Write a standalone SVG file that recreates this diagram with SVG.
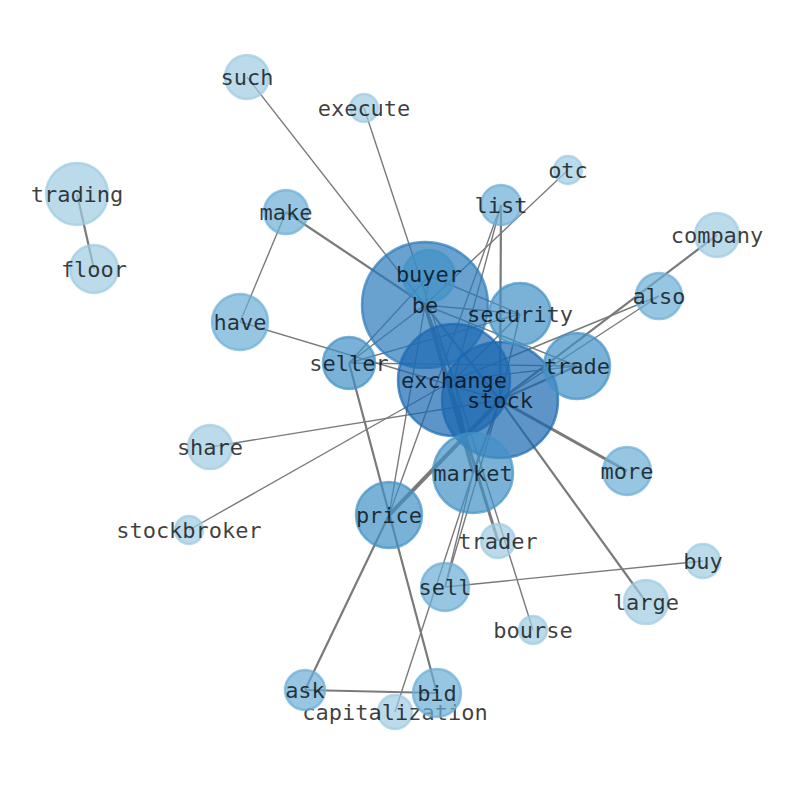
<svg xmlns="http://www.w3.org/2000/svg" width="794" height="790" viewBox="0 0 794 790">
<style>
.e{stroke:#7a7a7a;stroke-width:1.4;fill:none}
.w2{stroke-width:2.2}
.w3{stroke-width:3}
.w4{stroke-width:4}
circle{stroke-width:2.5;fill-opacity:0.7;stroke-opacity:0.7}
.c1{fill:#9ecae1;stroke:#9ecae1}
.c2{fill:#6baed6;stroke:#6baed6}
.c3{fill:#4292c6;stroke:#4292c6}
.c4{fill:#2b7bba;stroke:#2b7bba}
.c5{fill:#1a68b0;stroke:#1a68b0}
text{font-family:"DejaVu Sans Mono",monospace;font-size:22px;fill:#000;fill-opacity:0.75;text-anchor:middle;dominant-baseline:central}
</style>
<rect width="794" height="790" fill="#fff"/>
<g id="edges">
<line class="e w2" x1="77" y1="194" x2="94" y2="269"/>
<line class="e" x1="247" y1="77" x2="425" y2="305"/>
<line class="e" x1="364" y1="108" x2="454" y2="380"/>
<line class="e w2" x1="286" y1="212" x2="425" y2="305"/>
<line class="e" x1="286" y1="212" x2="240" y2="322"/>
<line class="e" x1="240" y1="322" x2="500" y2="400"/>
<line class="e" x1="568" y1="170" x2="425" y2="305"/>
<line class="e w2" x1="501" y1="205" x2="500" y2="400"/>
<line class="e" x1="501" y1="205" x2="454" y2="380"/>
<line class="e" x1="501" y1="205" x2="389" y2="515"/>
<line class="e w2" x1="717" y1="235" x2="500" y2="400"/>
<line class="e" x1="659" y1="296" x2="454" y2="380"/>
<line class="e" x1="659" y1="296" x2="500" y2="400"/>
<line class="e" x1="429" y1="276" x2="349" y2="363"/>
<line class="e" x1="425" y1="305" x2="349" y2="363"/>
<line class="e" x1="429" y1="276" x2="425" y2="305"/>
<line class="e" x1="425" y1="305" x2="454" y2="380"/>
<line class="e w2" x1="425" y1="305" x2="500" y2="400"/>
<line class="e w3" x1="425" y1="305" x2="473" y2="473"/>
<line class="e w3" x1="425" y1="305" x2="498" y2="541"/>
<line class="e" x1="425" y1="305" x2="520" y2="314"/>
<line class="e" x1="425" y1="305" x2="577" y2="366"/>
<line class="e" x1="425" y1="305" x2="389" y2="515"/>
<line class="e" x1="429" y1="276" x2="520" y2="314"/>
<line class="e" x1="520" y1="314" x2="454" y2="380"/>
<line class="e" x1="520" y1="314" x2="500" y2="400"/>
<line class="e" x1="520" y1="314" x2="349" y2="363"/>
<line class="e" x1="577" y1="366" x2="454" y2="380"/>
<line class="e w2" x1="577" y1="366" x2="500" y2="400"/>
<line class="e" x1="577" y1="366" x2="349" y2="363"/>
<line class="e w3" x1="500" y1="400" x2="627" y2="471"/>
<line class="e w2" x1="500" y1="400" x2="646" y2="602"/>
<line class="e" x1="210" y1="447" x2="500" y2="400"/>
<line class="e" x1="189" y1="530" x2="454" y2="380"/>
<line class="e w2" x1="349" y1="363" x2="437" y2="693"/>
<line class="e w4" x1="389" y1="515" x2="500" y2="400"/>
<line class="e w2" x1="389" y1="515" x2="305" y2="690"/>
<line class="e w2" x1="305" y1="690" x2="437" y2="693"/>
<line class="e" x1="395" y1="712" x2="473" y2="473"/>
<line class="e" x1="445" y1="587" x2="703" y2="561"/>
<line class="e" x1="445" y1="587" x2="473" y2="473"/>
<line class="e" x1="445" y1="587" x2="500" y2="400"/>
<line class="e" x1="533" y1="630" x2="454" y2="380"/>
<line class="e w2" x1="473" y1="473" x2="500" y2="400"/>
<line class="e" x1="473" y1="473" x2="454" y2="380"/>
</g>
<g id="node-be"><circle class="c4" cx="425" cy="305" r="63"/></g>
<g id="node-buyer"><circle class="c3" cx="429" cy="276" r="26"/></g>
<g id="node-exchange"><circle class="c5" cx="454" cy="380" r="56"/></g>
<g id="node-stock"><circle class="c5" cx="500" cy="400" r="58"/></g>
<g id="node-such"><circle class="c1" cx="247" cy="77" r="22"/><text x="247" y="77">such</text></g>
<g id="node-execute"><circle class="c1" cx="364" cy="108" r="14"/><text x="364" y="108">execute</text></g>
<g id="node-trading"><circle class="c1" cx="77" cy="194" r="31"/><text x="77" y="194">trading</text></g>
<g id="node-floor"><circle class="c1" cx="94" cy="269" r="24"/><text x="94" y="269">floor</text></g>
<g id="node-make"><circle class="c2" cx="286" cy="212" r="22"/><text x="286" y="212">make</text></g>
<g id="node-have"><circle class="c2" cx="240" cy="322" r="28"/><text x="240" y="322">have</text></g>
<g id="node-otc"><circle class="c1" cx="568" cy="170" r="14"/><text x="568" y="170">otc</text></g>
<g id="node-list"><circle class="c2" cx="501" cy="205" r="20"/><text x="501" y="205">list</text></g>
<g id="node-company"><circle class="c1" cx="717" cy="235" r="22"/><text x="717" y="235">company</text></g>
<g id="node-also"><circle class="c2" cx="659" cy="296" r="23"/><text x="659" y="296">also</text></g>
<g id="node-share"><circle class="c1" cx="210" cy="447" r="22"/><text x="210" y="447">share</text></g>
<g id="node-stockbroker"><circle class="c1" cx="189" cy="530" r="14"/><text x="189" y="530">stockbroker</text></g>
<g id="node-trader"><circle class="c1" cx="498" cy="541" r="17"/><text x="498" y="541">trader</text></g>
<g id="node-buy"><circle class="c1" cx="703" cy="561" r="17"/><text x="703" y="561">buy</text></g>
<g id="node-large"><circle class="c1" cx="646" cy="602" r="22"/><text x="646" y="602">large</text></g>
<g id="node-bourse"><circle class="c1" cx="533" cy="630" r="14"/><text x="533" y="630">bourse</text></g>
<g id="node-capitalization"><circle class="c1" cx="395" cy="712" r="17"/><text x="395" y="712">capitalization</text></g>
<g id="node-more"><circle class="c2" cx="627" cy="471" r="24"/><text x="627" y="471">more</text></g>
<g id="node-sell"><circle class="c2" cx="445" cy="587" r="24"/><text x="445" y="587">sell</text></g>
<g id="node-ask"><circle class="c2" cx="305" cy="690" r="20"/><text x="305" y="690">ask</text></g>
<g id="node-bid"><circle class="c2" cx="437" cy="693" r="24"/><text x="437" y="693">bid</text></g>
<g id="node-seller"><circle class="c3" cx="349" cy="363" r="26"/><text x="349" y="363">seller</text></g>
<g id="node-security"><circle class="c3" cx="520" cy="314" r="31"/><text x="520" y="314">security</text></g>
<g id="node-trade"><circle class="c3" cx="577" cy="366" r="33"/><text x="577" y="366">trade</text></g>
<g id="node-price"><circle class="c3" cx="389" cy="515" r="33"/><text x="389" y="515">price</text></g>
<g id="node-market"><circle class="c3" cx="473" cy="473" r="40"/><text x="473" y="473">market</text></g>
<g id="labels"><text x="429" y="274">buyer</text><text x="425" y="305">be</text><text x="454" y="380">exchange</text><text x="500" y="400">stock</text></g>
</svg>
